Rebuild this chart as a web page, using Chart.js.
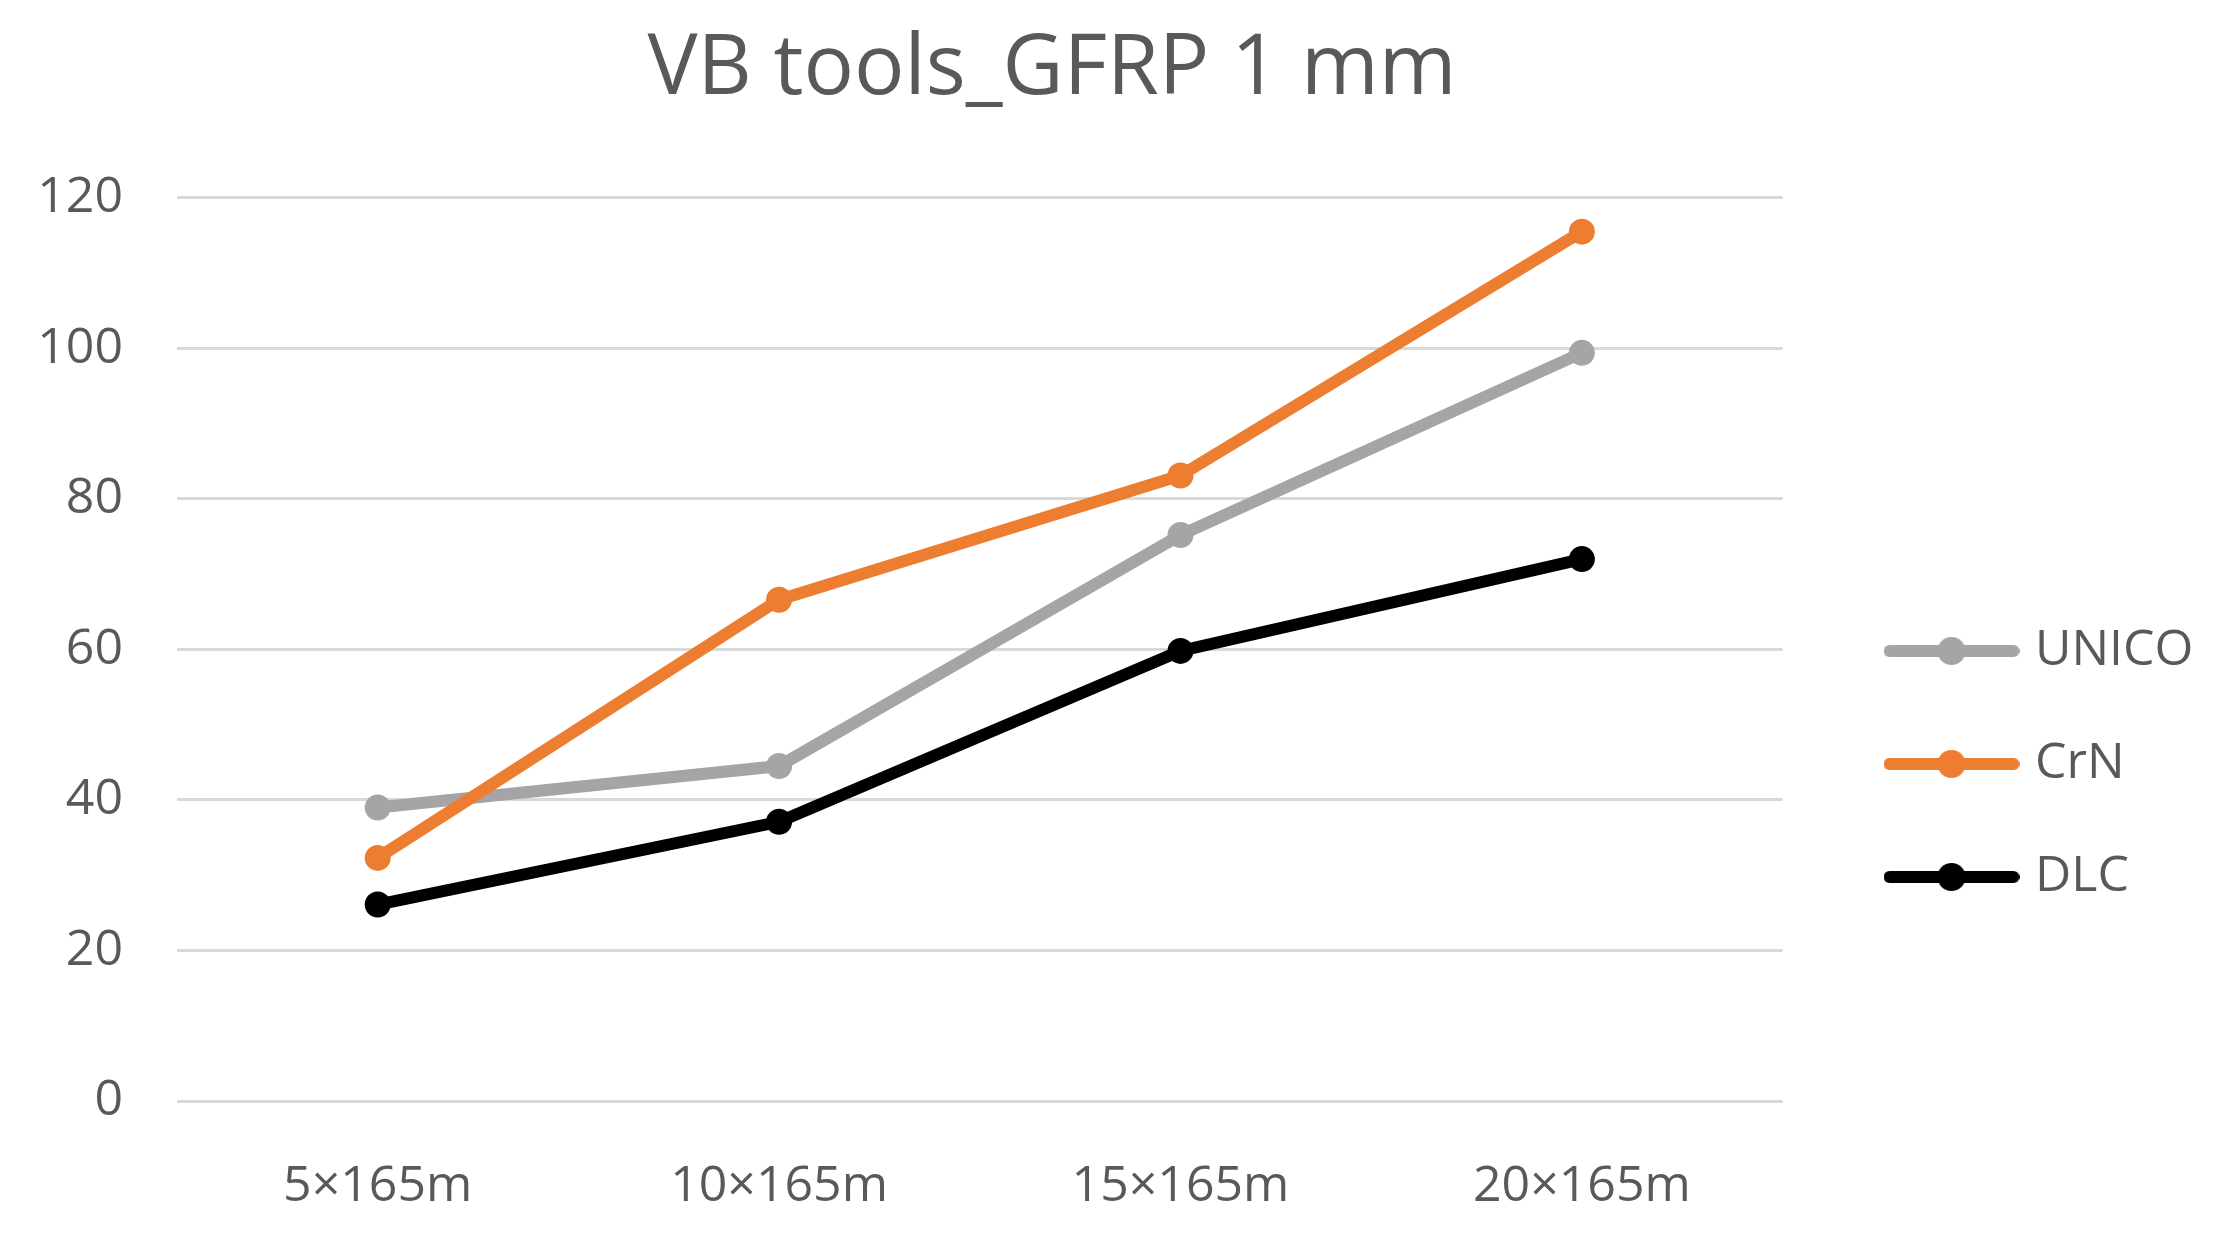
<!DOCTYPE html>
<html><head><meta charset="utf-8">
<script src="https://cdn.jsdelivr.net/npm/chart.js@4.4.0/dist/chart.umd.min.js"></script>
<style>html,body{margin:0;padding:0;background:#fff;} #wrap{width:2214px;height:1238px;position:relative;}</style>
</head><body><div id="wrap"><canvas id="c"></canvas></div>
<script>
const chartTitle = 'VB tools_GFRP 1 mm';
const categories = ['5×165m', '10×165m', '15×165m', '20×165m'];
const seriesNames = ['UNICO', 'CrN', 'DLC'];
const unicoValues = [39, 44.5, 75.2, 99.4];
const crnValues = [32.3, 66.6, 83.1, 115.5];
const dlcValues = [26.1, 37.1, 59.8, 72];
const yTicks = [0, 20, 40, 60, 80, 100, 120];
const seriesColors = ['#A5A5A5', '#ED7D31', '#000000'];
const seriesValues = [unicoValues, crnValues, dlcValues];

const FONT = '"Open Sans", "Noto Sans", sans-serif';
const TEXT = '#595959';

function legendIcon(color) {
  const c = document.createElement('canvas');
  c.width = 136; c.height = 32;
  const g = c.getContext('2d');
  g.strokeStyle = color; g.lineWidth = 12; g.lineCap = 'round';
  g.beginPath(); g.moveTo(6, 16); g.lineTo(130, 16); g.stroke();
  g.fillStyle = color;
  g.beginPath(); g.arc(68, 16, 14, 0, Math.PI * 2); g.fill();
  return c;
}
const icons = seriesColors.map(legendIcon);

const adjust = {
  id: 'adjust',
  afterLayout(chart) {
    const t = chart.titleBlock;
    if (t) { t.left = 0; t.right = 2104; }
    const l = chart.legend;
    if (l) {
      const pad = l.options.labels.padding;
      const dx = 1893 - (l.left + pad);
      l.left += dx; l.right += dx;
      const fs = l.options.labels.font.size;
      l.top = 651 - pad - fs / 2; l.bottom = 1238;
      l.height = l.bottom - l.top;
    }
  }
};

new Chart(document.getElementById('c'), {
  type: 'line',
  data: {
    labels: categories,
    datasets: seriesNames.map((name, i) => ({
      label: name,
      data: seriesValues[i],
      borderColor: seriesColors[i],
      backgroundColor: seriesColors[i],
      pointBackgroundColor: seriesColors[i],
      pointBorderColor: seriesColors[i],
      borderWidth: 12,
      pointRadius: 13,
      pointBorderWidth: 0,
      tension: 0,
      fill: false,
      order: 3 - i
    }))
  },
  options: {
    responsive: true,
    maintainAspectRatio: false,
    animation: false,
    layout: { padding: { left: 0, top: 0, bottom: 0, right: 58 } },
    plugins: {
      title: {
        display: true,
        text: chartTitle,
        color: TEXT,
        font: { family: FONT, size: 84, weight: 'normal', lineHeight: 1.2 },
        padding: { top: 20, bottom: 77 }
      },
      legend: {
        position: 'right',
        align: 'start',
        labels: {
          color: TEXT,
          font: { family: FONT, size: 50 },
          usePointStyle: true,
          pointStyleWidth: 117,
          boxHeight: 32,
          padding: 63,
          sort: (a, b) => a.datasetIndex - b.datasetIndex,
          generateLabels(chart) {
            const items = Chart.defaults.plugins.legend.labels.generateLabels(chart);
            items.forEach(it => { it.pointStyle = icons[it.datasetIndex]; });
            return items;
          }
        }
      },
      tooltip: { enabled: false }
    },
    scales: {
      x: {
        offset: true,
        grid: { display: false, drawTicks: false },
        border: { display: false },
        ticks: { color: TEXT, font: { family: FONT, size: 50 }, padding: 56, maxRotation: 0 },
        afterFit(s) { s.height = 137; }
      },
      y: {
        min: yTicks[0],
        max: yTicks[yTicks.length - 1],
        afterBuildTicks(s) { s.ticks = yTicks.map(v => ({ value: v })); },
        grid: { color: '#D9D9D9', lineWidth: 3, drawTicks: false },
        border: { display: false },
        ticks: { color: TEXT, font: { family: FONT, size: 50 }, padding: 54 },
        afterFit(s) { s.width = 177; }
      }
    }
  },
  plugins: [adjust]
});
</script></body></html>
